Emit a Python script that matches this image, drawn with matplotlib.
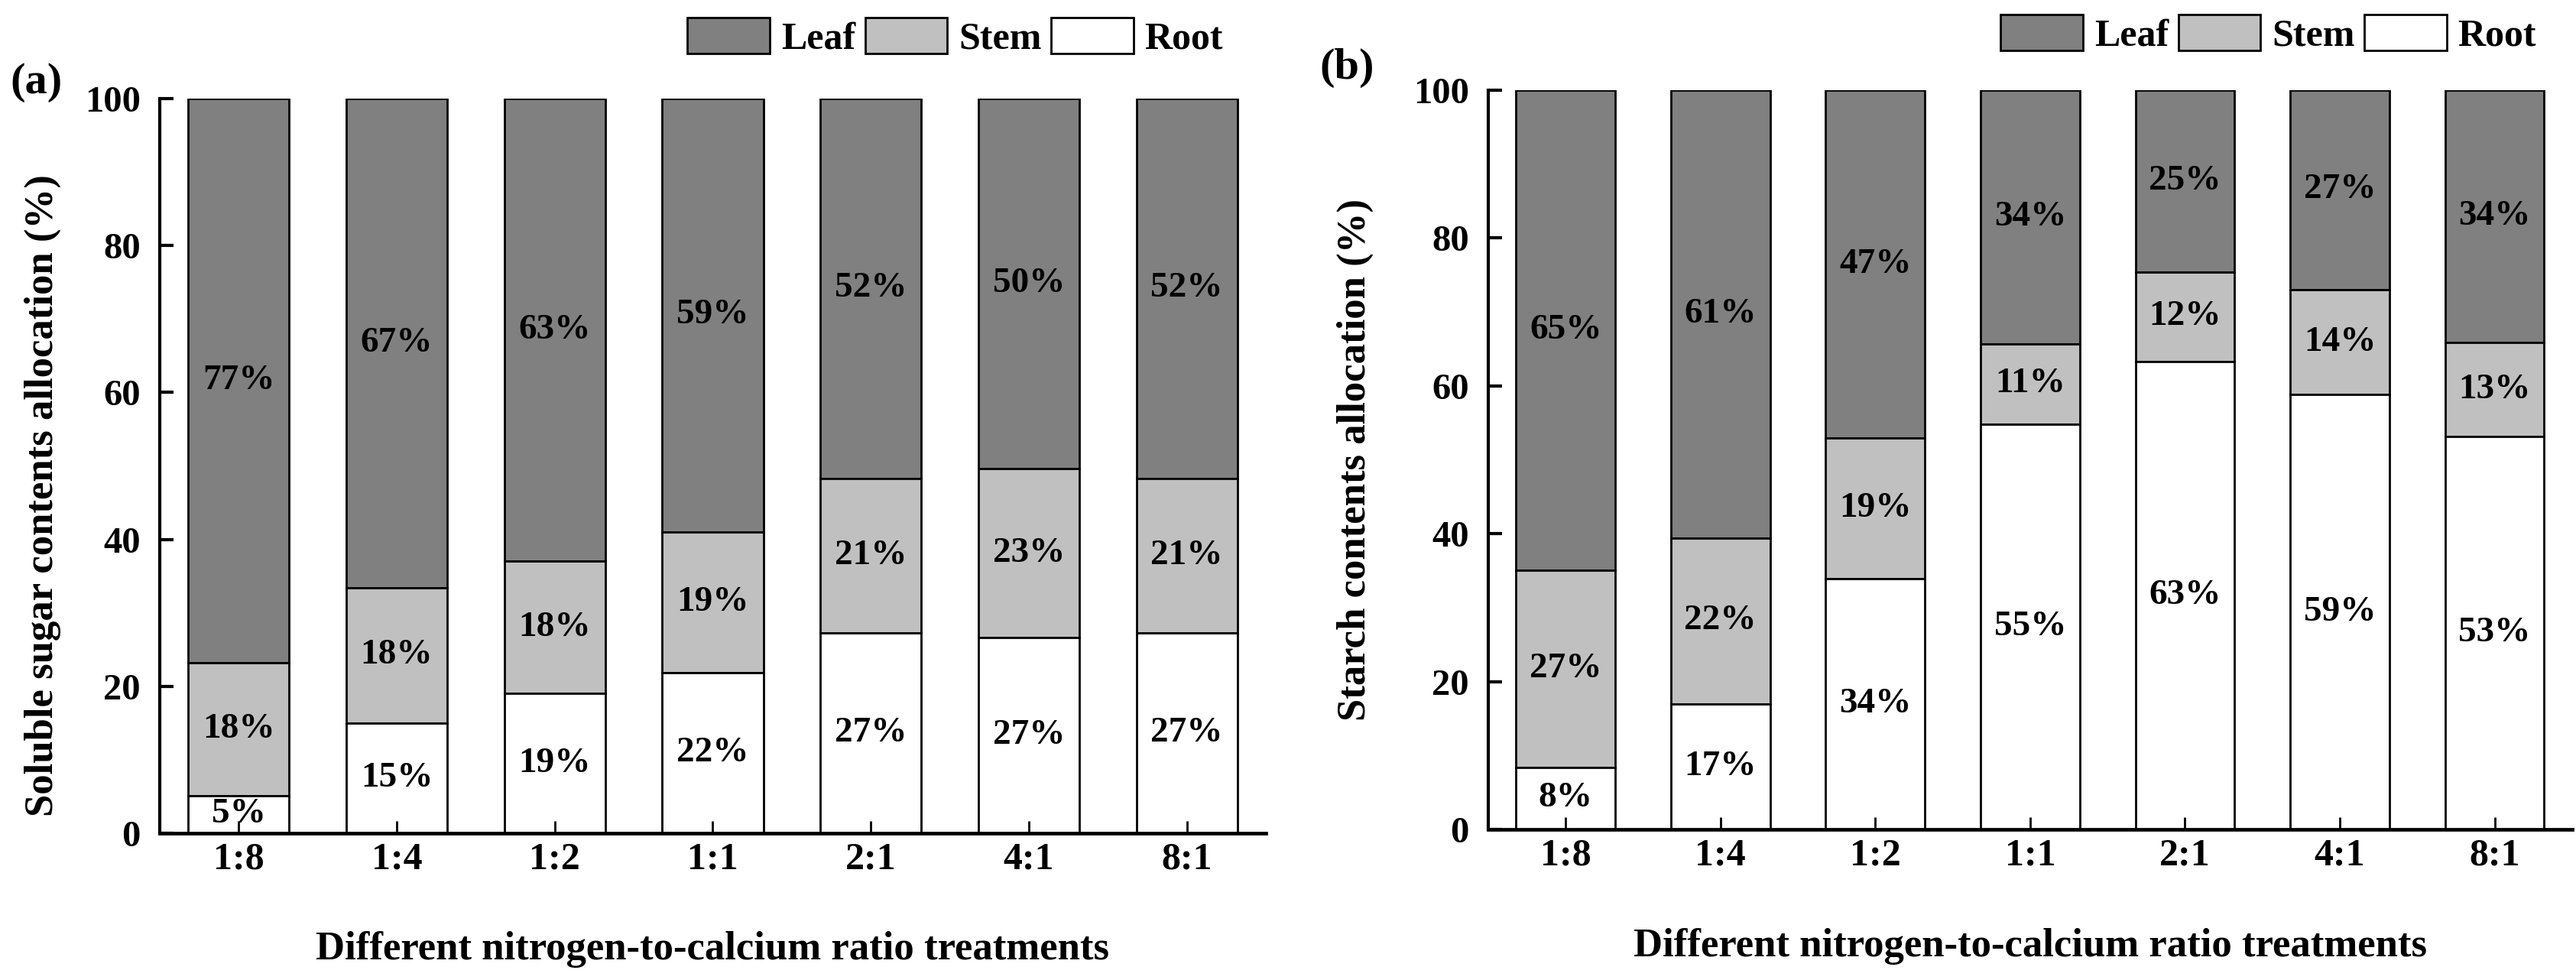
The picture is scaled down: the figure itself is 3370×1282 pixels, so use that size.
import matplotlib
matplotlib.use("Agg")
import matplotlib.pyplot as plt
import numpy as np

# razões N:Ca
tratamentos = ['1:8', '1:4', '1:2', '1:1', '2:1', '4:1', '8:1']

# (a) açúcar solúvel (%)
acucar_raiz = [5.1, 15.0, 19.0, 21.9, 27.3, 26.6, 27.3]
acucar_caule = [18.1, 18.4, 18.0, 19.1, 21.0, 23.0, 21.0]
acucar_folha = [76.8, 66.6, 63.0, 59.0, 51.7, 50.4, 51.7]

# (b) amido (%)
amido_raiz = [8.4, 17.0, 33.9, 54.8, 63.3, 58.8, 53.1]
amido_caule = [26.7, 22.4, 19.0, 10.9, 12.1, 14.2, 12.8]
amido_folha = [64.9, 60.6, 47.1, 34.3, 24.6, 27.0, 34.1]

plt.rcParams['font.family'] = ['Liberation Serif', 'DejaVu Serif']
plt.rcParams['font.weight'] = 'bold'

fig = plt.figure(figsize=(33.70, 12.82), dpi=100)
ax_a = fig.add_axes([0.0620, 0.1498, 0.4294, 0.7496])
ax_b = fig.add_axes([0.5777, 0.1537, 0.4208, 0.7543])


def painel(ax, raiz, caule, folha, ylabel, letra, leg_x, leg_y, letra_xy, ylab_xy):
    x = np.arange(len(tratamentos))
    raiz = np.array(raiz)
    caule = np.array(caule)
    folha = np.array(folha)
    largura = 0.64
    kw = dict(width=largura, edgecolor='black', linewidth=2.0)
    b1 = ax.bar(x, folha, bottom=raiz + caule, color='#808080', label='Leaf', **kw)
    b2 = ax.bar(x, caule, bottom=raiz, color='#c0c0c0', label='Stem', **kw)
    b3 = ax.bar(x, raiz, color='white', label='Root', **kw)

    # rótulos de porcentagem no meio de cada segmento
    for i in range(len(x)):
        for base, h in [(0, raiz[i]), (raiz[i], caule[i]), (raiz[i] + caule[i], folha[i])]:
            ax.text(x[i], base + h / 2, f'{h:.0f}%', ha='center', va='center',
                    fontsize=34, fontweight='bold')

    ax.set_xlim(-0.5, 6.5)
    ax.set_ylim(0, 100)
    ax.set_xticks(x)
    ax.set_xticklabels(tratamentos)
    ax.set_yticks([0, 20, 40, 60, 80, 100])
    ax.tick_params(axis='x', direction='in', length=11.5, width=2, pad=8, labelsize=36)
    ax.tick_params(axis='y', direction='in', length=13, width=3, pad=18, labelsize=35)
    for s in ['top', 'right']:
        ax.spines[s].set_visible(False)
    ax.spines['left'].set_linewidth(3)
    ax.spines['bottom'].set_linewidth(3.4)

    ax.set_xlabel('Different nitrogen-to-calcium ratio treatments', fontsize=38, fontweight='bold')
    ax.xaxis.set_label_coords(0.5, -0.133)
    ax.set_ylabel(ylabel, fontsize=38, fontweight='bold')
    ax.yaxis.set_label_coords(*ylab_xy)

    ax.legend(handles=[b1, b2, b3], loc='center right', bbox_to_anchor=(leg_x, leg_y),
              bbox_transform=fig.transFigure, frameon=False, ncol=3, fontsize=36,
              handlelength=2.15, handleheight=1.08, handletextpad=0.3,
              columnspacing=0.25, borderpad=0, borderaxespad=0)
    fig.text(letra_xy[0], letra_xy[1], letra, ha='center', va='center',
             fontsize=42, fontweight='bold')


painel(ax_a, acucar_raiz, acucar_caule, acucar_folha,
       'Soluble sugar contents allocation (%)', '(a)', 0.4748, 0.9618, (0.014, 0.916), (-0.089, 0.46))
painel(ax_b, amido_raiz, amido_caule, amido_folha,
       'Starch contents allocation (%)', '(b)', 0.9846, 0.9653, (0.523, 0.931), (-0.106, 0.50))

fig.savefig('out.png', dpi=100)
